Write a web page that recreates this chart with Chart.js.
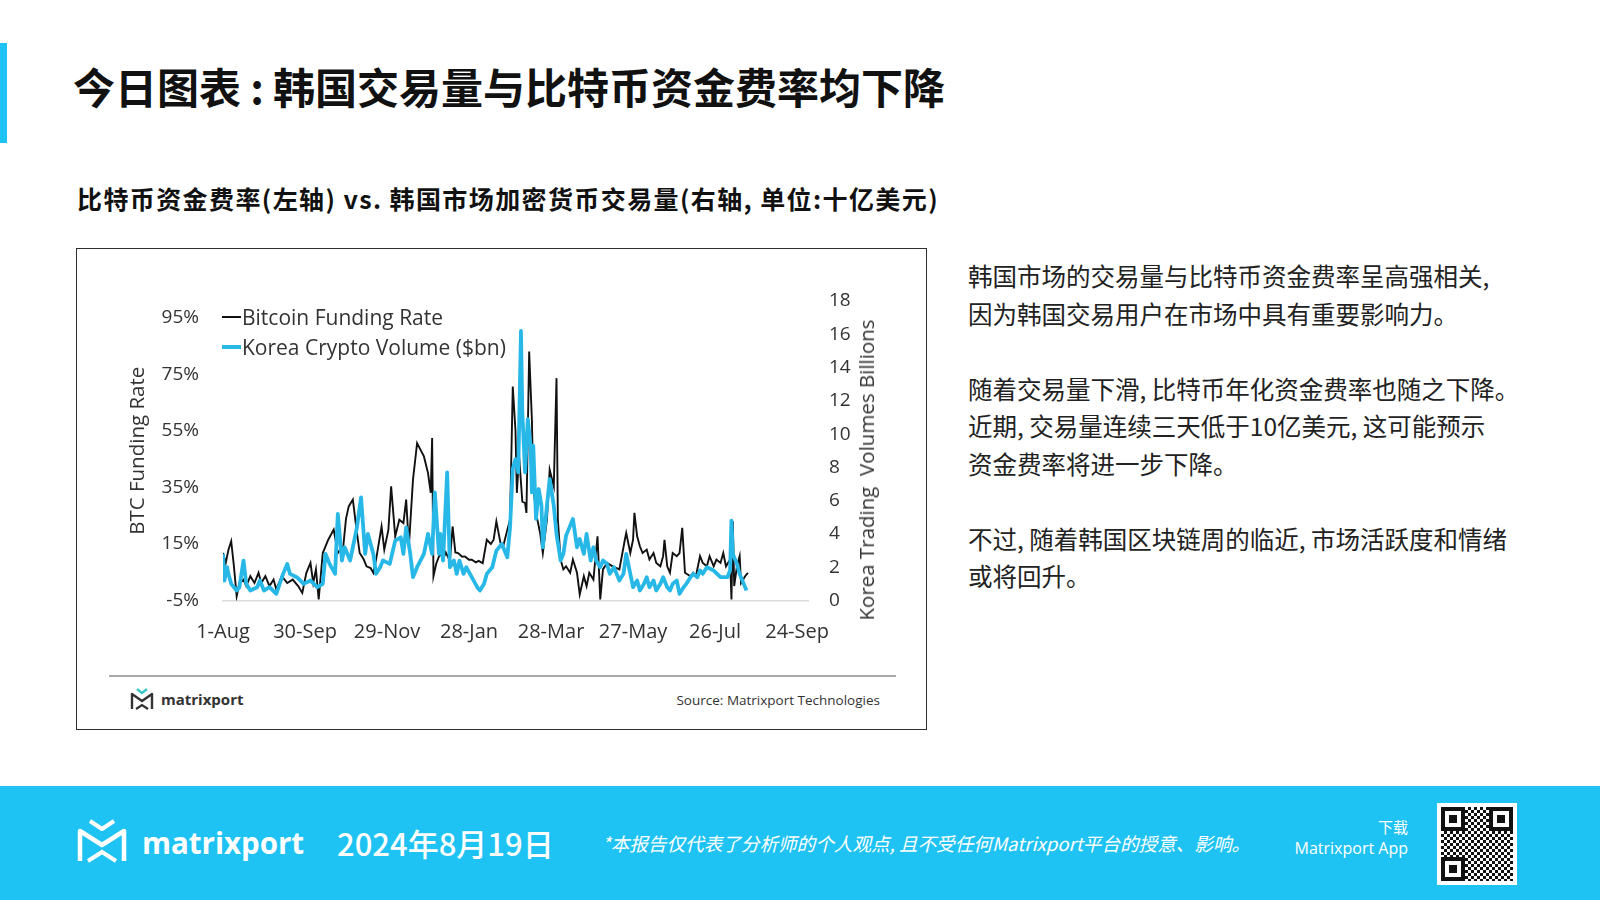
<!DOCTYPE html>
<html lang="zh-CN">
<head>
<meta charset="utf-8">
<script src="https://cdn.jsdelivr.net/npm/chart.js@4.4.1/dist/chart.umd.min.js"></script>
<style>
  html, body { margin:0; padding:0; }
  body { width:1600px; height:900px; position:relative; background:#fff; overflow:hidden;
         font-family:"Noto Sans CJK SC","Noto Sans",sans-serif; color:#1a1a1a; }
  .abs { position:absolute; white-space:nowrap; }
  #accent { left:0; top:43px; width:7px; height:100px; background:#1fc3f3; }
  #title { left:73px; top:61px; font-size:42px; line-height:50px; font-weight:700; color:#111; }
  #title .colon { display:inline-block; width:32px; text-align:center; }
  #subtitle { left:77px; top:183px; font-size:25px; line-height:30px; font-weight:700; color:#111; letter-spacing:1.4px; }
  #box { left:76px; top:248px; width:851px; height:482px; box-sizing:border-box; border:1.5px solid #2e2e2e; }
  #chartWrap { left:100px; top:260px; width:800px; height:400px; }
  .leg { font-family:"Open Sans",sans-serif; font-size:21px; color:#333; line-height:26px; display:flex; align-items:center; }
  .leg span.l { display:inline-block; width:19px; margin-right:1px; }
  #ytitle2 { font-family:"Open Sans",sans-serif; font-size:20.5px; color:#333; line-height:24px;
             left:866px; top:470px; transform:translate(-50%,-50%) rotate(-90deg); white-space:pre; }
  #sep { left:109px; top:675px; width:787px; height:2px; background:#a8a8a8; }
  #boxlogo { left:130px; top:688px; display:flex; align-items:center; }
  #boxlogo .t { font-family:"Open Sans",sans-serif; font-weight:700; font-size:15px; color:#333; margin-left:7px; }
  #source { right:720px; top:690px; font-family:"Open Sans",sans-serif; font-size:13.5px; color:#333; line-height:20px; }
  #body { left:968px; top:257px; font-size:24.5px; line-height:37.5px; color:#222; white-space:nowrap; }
  #footer { left:0; top:786px; width:1600px; height:114px; background:#1fc3f3; }
  #flogo { left:77px; top:819px; }
  #fname { left:142px; top:822px; font-family:"Open Sans",sans-serif; font-weight:700; font-size:29.5px; line-height:42px; color:#fff; }
  #fdate { left:337px; top:822px; font-size:31px; line-height:42px; font-weight:500; color:#fff; }
  #fdisc { left:602px; top:831px; font-size:18.6px; line-height:24px; color:#fff; font-style:italic; }
  #fdl { right:192px; top:816px; font-size:15px; line-height:22px; color:#fff; text-align:right; }
  #fapp { right:192px; top:837px; font-family:"Open Sans",sans-serif; font-size:16px; line-height:22px; color:#fff; text-align:right; }
  #qr { left:1437px; top:803px; width:80px; height:82px; background:#fff; }
  #qr .in { position:absolute; left:4px; top:4px; width:72px; height:74px;
            background: repeating-conic-gradient(#111 0 25%, #fff 0 50%) 0 0/6px 6px; }
  #qr .f { position:absolute; width:16px; height:16px; border:4px solid #111; background:#fff; }
  #qr .f::after { content:""; position:absolute; left:4px; top:4px; width:8px; height:8px; background:#111; }
</style>
</head>
<body>
<div id="accent" class="abs"></div>
<div id="title" class="abs">今日图表<span class="colon">:</span>韩国交易量与比特币资金费率均下降</div>
<div id="subtitle" class="abs">比特币资金费率(左轴) vs. 韩国市场加密货币交易量(右轴, 单位:十亿美元)</div>

<div id="box" class="abs"></div>
<div id="chartWrap" class="abs"><canvas id="c" width="800" height="400" style="width:800px;height:400px"></canvas></div>

<div class="abs leg" style="left:222px; top:304px;"><span class="l" style="height:2.5px;background:#111"></span>Bitcoin Funding Rate</div>
<div class="abs leg" style="left:222px; top:334px;"><span class="l" style="height:4px;background:#27b8e8"></span>Korea Crypto Volume ($bn)</div>
<div id="ytitle2" class="abs">Korea Trading  Volumes Billions</div>

<div id="sep" class="abs"></div>
<div id="boxlogo" class="abs">
  <svg width="24" height="22" viewBox="0 0 24 22">
    <path d="M7 1 L12 5 L17 1" fill="none" stroke="#3cc7c9" stroke-width="2.4" stroke-linejoin="round"/>
    <path d="M2 21 V6 L12 13 L22 6 V21" fill="none" stroke="#333" stroke-width="2.4" stroke-linejoin="round"/>
    <path d="M6 21 L12 17 L18 21" fill="none" stroke="#333" stroke-width="2.2"/>
  </svg>
  <span class="t">matrixport</span>
</div>
<div id="source" class="abs">Source: Matrixport Technologies</div>

<div id="body" class="abs">韩国市场的交易量与比特币资金费率呈高强相关,<br>因为韩国交易用户在市场中具有重要影响力。<br><br>随着交易量下滑, 比特币年化资金费率也随之下降。<br>近期, 交易量连续三天低于10亿美元, 这可能预示<br>资金费率将进一步下降。<br><br>不过, 随着韩国区块链周的临近, 市场活跃度和情绪<br>或将回升。</div>

<div id="footer" class="abs"></div>
<svg id="flogo" class="abs" width="50" height="44" viewBox="0 0 50 44">
  <path d="M13 2 L25 10 L37 2" fill="none" stroke="#fff" stroke-width="4" stroke-linejoin="round"/>
  <path d="M3 42 V12 L25 26 L47 12 V42" fill="none" stroke="#fff" stroke-width="4.5" stroke-linejoin="round"/>
  <path d="M11 42 L25 33 L39 42" fill="none" stroke="#fff" stroke-width="4"/>
</svg>
<div id="fname" class="abs">matrixport</div>
<div id="fdate" class="abs">2024年8月19日</div>
<div id="fdisc" class="abs">*本报告仅代表了分析师的个人观点, 且不受任何Matrixport平台的授意、影响。</div>
<div id="fdl" class="abs">下载</div>
<div id="fapp" class="abs">Matrixport App</div>
<div id="qr" class="abs"><div class="in"></div>
  <div class="f" style="left:4px;top:4px"></div>
  <div class="f" style="left:52px;top:4px"></div>
  <div class="f" style="left:4px;top:54px"></div>
</div>

<script>
// ---- data (day offsets from 1-Aug-2023) ----
const fundingDays = [0,2,4,6,8,10,12,15,17,20,23,26,28,31,34,37,39,43,47,51,55,58,61,64,66,68,70,73,77,81,84,88,90,92,95,98,100,103,105,108,110,112,116,118,121,123,126,129,132,134,136,139,142,147,150,152,153,154,156,159,161,163,166,168,170,172,175,177,180,182,185,187,190,193,196,198,200,203,205,208,210,212,214,215,216,217,219,221,222,224,226,227,229,232,234,237,239,242,244,245,247,249,251,254,256,259,261,264,266,268,271,274,276,278,281,285,290,294,295,298,300,301,303,305,307,310,312,315,317,320,322,323,325,327,329,332,334,336,338,342,344,346,349,351,354,356,359,361,364,366,368,371,372,373,374,376,378,379,382,384];
const fundingRate = [11.8,8.3,13,16,7.1,-3.5,1.2,2.4,0.1,3.6,1.2,4.8,1.2,3.6,0.1,2.4,-1.1,3.6,1.2,2.4,0.1,-2.3,4.8,8.3,1.2,6,-4.6,11.8,16.5,20.1,11.8,14.2,24,28.3,30.7,18.9,11.8,9.5,7.1,6.5,4.8,9.5,21.2,13,20,35.4,17.7,23.6,22.4,30.7,14.2,37.8,50.7,46,40.1,33.1,52.5,3.6,8,11.8,9.5,12,9,21.2,12,11.8,10.5,10.6,9.4,9.4,8.5,9,8.2,16.5,15,16.5,23,15.4,14.2,20,23.6,70.7,55,33.1,41.3,43.6,30,29.5,26,83.1,59,35.4,26,18.9,11.8,23.6,41.3,35.4,73.7,23.6,9.5,6,7.1,4.8,9.5,4.8,-2.9,3.6,0.1,4.8,2.4,17.7,-4.6,6,8.3,7.1,6,16.5,18.9,11.8,16.5,26,17.7,14.2,11.8,13,9.5,11.8,8.3,7.1,10.7,16.5,7.1,4.8,11.8,10.7,11.8,20.7,4.8,3.6,4.8,3.6,10.7,8.3,7.1,10.7,7.1,9.5,8.3,11.8,7.1,9.5,-4.6,23,0.1,7.1,10.7,1.2,3.6,4.8];
const volumeDays = [0,1,3,4,6,10,12,15,17,20,25,27,30,34,39,44,47,49,54,59,64,69,73,75,78,82,84,87,89,93,95,98,101,104,106,110,112,115,117,122,126,130,132,134,137,139,142,147,150,153,155,158,159,161,164,166,169,171,173,176,178,182,186,188,191,193,197,200,204,207,208,210,212,214,216,218,219,221,223,225,226,227,229,231,233,234,237,239,242,244,247,249,251,254,256,259,261,264,266,269,271,273,276,278,281,283,286,288,290,293,295,298,300,303,305,308,310,312,315,317,320,322,325,327,329,332,334,337,339,342,344,347,349,351,354,359,364,369,371,372,373,376,378,381,383];
const volumeBn = [2.8,1.2,2.0,1.6,1.0,0.6,0.8,2.4,1.0,0.6,0.8,1.2,0.6,0.8,0.4,1.6,2.2,1.6,1.4,1.0,1.2,0.8,1.0,2.8,2.2,1.6,5.2,2.4,3.2,2.4,3.2,4.4,6.2,2.8,4.0,2.8,1.6,2.0,2.4,2.2,3.6,3.8,2.8,4.4,2.8,1.4,2.0,2.8,4.0,2.8,6.5,2.8,4.0,2.4,7.7,2.0,2.4,1.6,2.4,1.6,2.0,1.4,0.8,0.6,1.0,1.6,2.0,3.0,3.4,2.8,2.6,4.4,7.9,8.5,7.7,16.2,11.3,7.7,10.9,9.3,6.5,9.3,4.9,6.7,5.7,3.2,5.7,7.3,5.7,4.0,2.4,2.8,3.9,4.5,4.9,3.2,3.7,2.8,4.0,2.4,3.2,2.4,2.0,2.4,2.2,1.6,2.0,1.6,1.2,1.6,2.8,1.6,0.8,1.2,0.6,1.0,1.4,0.8,1.2,0.6,1.0,1.4,0.8,0.6,1.0,1.2,0.4,0.8,1.0,1.4,1.6,1.4,1.8,1.6,2.0,1.8,1.4,1.4,1.8,4.8,2.8,2.2,1.6,1.0,0.6];
const xTickDays = [0,60,120,180,240,300,360,420];
const xTickLabels = ['1-Aug','30-Sep','29-Nov','28-Jan','28-Mar','27-May','26-Jul','24-Sep'];
const leftTicks = [-5,15,35,55,75,95];
const rightTicks = [0,2,4,6,8,10,12,14,16,18];

const fam = '"Open Sans", sans-serif';
const tickColor = '#333';

new Chart(document.getElementById('c').getContext('2d'), {
  type: 'line',
  data: {
    datasets: [
      { label:'Korea Crypto Volume ($bn)', yAxisID:'y2',
        data: volumeDays.map((d,i)=>({x:d, y:volumeBn[i]})),
        borderColor:'#27b8e8', borderWidth:3.8, pointRadius:0, tension:0, borderJoinStyle:'round' },
      { label:'Bitcoin Funding Rate', yAxisID:'y',
        data: fundingDays.map((d,i)=>({x:d, y:fundingRate[i]})),
        borderColor:'#111', borderWidth:1.9, pointRadius:0, tension:0 }
    ]
  },
  options: {
    responsive:false, animation:false, maintainAspectRatio:false,
    layout:{ padding:{ top:41, left:0, right:0, bottom:0 } },
    plugins:{ legend:{display:false}, tooltip:{enabled:false} },
    scales:{
      x:{ type:'linear', min:0, max:428,
          afterBuildTicks:(s)=>{ s.ticks = xTickDays.map(v=>({value:v})); },
          afterFit:(s)=>{ s.height = 59.5; },
          ticks:{ callback:(v)=>xTickLabels[xTickDays.indexOf(v)], font:{family:fam, size:20}, color:tickColor, padding:20, maxRotation:0, autoSkip:false },
          grid:{ display:false, drawTicks:false },
          border:{ display:true, color:'#dcdcdc', width:1.5 } },
      y:{ position:'left', min:-5, max:101,
          afterBuildTicks:(s)=>{ s.ticks = leftTicks.map(v=>({value:v})); },
          afterFit:(s)=>{ s.width = 123; },
          ticks:{ callback:(v)=>v+'%', font:{family:fam, size:19}, color:tickColor, padding:24 },
          title:{ display:true, text:'BTC Funding Rate', font:{ family:fam, size:20.5 }, color:'#333', padding:{top:26,bottom:0} },
          grid:{ display:false, drawTicks:false }, border:{ display:false } },
      y2:{ position:'right', min:0, max:18,
          afterBuildTicks:(s)=>{ s.ticks = rightTicks.map(v=>({value:v})); },
          afterFit:(s)=>{ s.width = 92; },
          ticks:{ font:{family:fam, size:19}, color:tickColor, padding:21 },
          grid:{ display:false, drawTicks:false }, border:{ display:false } }
    }
  }
});
</script>
</body>
</html>
